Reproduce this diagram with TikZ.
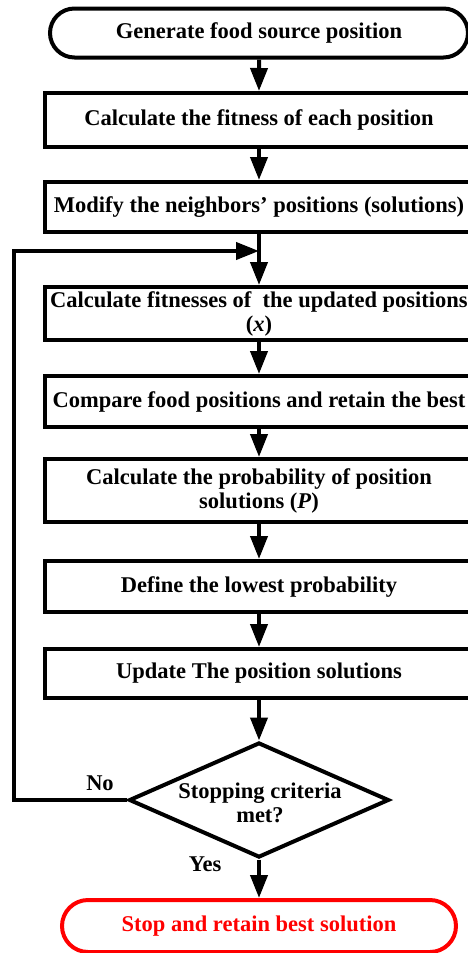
\documentclass[tikz,border=0pt]{standalone}
\usepackage{fontspec}
\setmainfont{Liberation Serif}
\usetikzlibrary{shapes.geometric,shapes.misc,arrows.meta}

\begin{document}
\begin{tikzpicture}[x=0.5pt,y=-0.5pt,
  every node/.style={font=\bfseries\fontsize{11.25}{12}\selectfont, inner sep=0pt},
  procbox/.style={draw, line width=2pt, rectangle, minimum width=214pt, align=center},
  terminal/.style={draw, line width=2pt, rounded rectangle, align=center},
  decision/.style={draw, line width=2pt, diamond},
  arr/.style={line width=2pt, -{Triangle[length=11.5pt,width=8.5pt]}}
]
\useasboundingbox (0,0) rectangle (467,953);

% main column of steps
\node[terminal, minimum width=209pt, minimum height=24.5pt] (start) at (259,33) {Generate food source position};
\node[procbox, minimum height=27pt] (fit) at (259,120) {Calculate the fitness of each position};
\node[procbox, minimum height=25pt] (modify) at (259,207) {Modify the neighbors’ positions (solutions)};
\node[procbox, minimum height=26.5pt] (upd) at (259,313.5) {Calculate fitnesses of\ \ the updated positions\\(\textit{x})};
\node[procbox, minimum height=25.5pt] (cmp) at (259,401.5) {Compare food positions and retain the best};
\node[procbox, minimum height=31.5pt] (prob) at (259,490.5) {Calculate the probability of position\\solutions (\textit{P})};
\node[procbox, minimum height=25.5pt] (low) at (259,586.5) {Define the lowest probability};
\node[procbox, minimum height=24.5pt] (sol) at (259,673.5) {Update The position solutions};
\node[decision, minimum width=130pt, minimum height=57.5pt] (stop) at (259,800) {};
\node[align=center] (stoptext) at (260,803) {Stopping criteria\\met?};
\node[terminal, draw=red, text=red, minimum width=197pt, minimum height=26pt] (end) at (259,926) {Stop and retain best solution};

% branch labels
\node (no) at (100,783) {No};
\node (yes) at (205,864) {Yes};

% feedback loop coordinates
\coordinate (merge) at (259,251);
\coordinate (loopx) at (14,0);

% connectors
\draw[arr] (start) -- (fit);
\draw[arr] (fit) -- (modify);
\draw[arr] (modify) -- (upd);
\draw[arr] (upd) -- (cmp);
\draw[arr] (cmp) -- (prob);
\draw[arr] (prob) -- (low);
\draw[arr] (low) -- (sol);
\draw[arr] (sol) -- (stop);
\draw[arr] (stop) -- (end);
\draw[arr] (stop.west) -- (stop.west -| loopx) |- (merge);
\end{tikzpicture}
\end{document}
